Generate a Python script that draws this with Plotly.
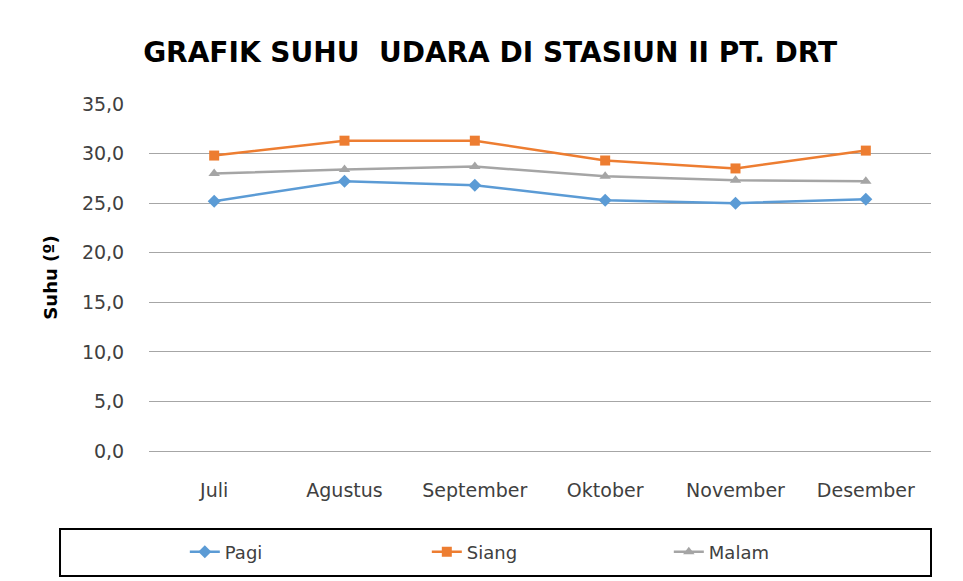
import plotly.graph_objects as go

bulan = ["Juli", "Agustus", "September", "Oktober", "November", "Desember"]
pagi = [25.2, 27.2, 26.8, 25.3, 25.0, 25.4]
siang = [29.8, 31.3, 31.3, 29.3, 28.5, 30.3]
malam = [28.0, 28.4, 28.7, 27.7, 27.3, 27.2]
y_ticks = [0, 5, 10, 15, 20, 25, 30, 35]

FONT = "DejaVu Sans"

fig = go.Figure()
fig.add_trace(go.Scatter(x=bulan, y=pagi, name="Pagi", mode="lines+markers",
                         line=dict(color="#5B9BD5", width=2.5),
                         marker=dict(symbol="diamond", size=10, color="#5B9BD5")))
fig.add_trace(go.Scatter(x=bulan, y=siang, name="Siang", mode="lines+markers",
                         line=dict(color="#ED7D31", width=2.5),
                         marker=dict(symbol="square", size=10, color="#ED7D31")))
fig.add_trace(go.Scatter(x=bulan, y=malam, name="Malam", mode="lines+markers",
                         line=dict(color="#A5A5A5", width=2.5),
                         marker=dict(symbol="triangle-up", size=10, color="#A5A5A5")))

fig.update_layout(
    width=963, height=581,
    paper_bgcolor="white", plot_bgcolor="white",
    separators=",.",
    margin=dict(l=149, r=32, t=104, b=130, autoexpand=False),
    font=dict(family=FONT, size=18, color="#404040"),
    title=dict(text="<b>GRAFIK SUHU  UDARA DI STASIUN II PT. DRT</b>",
               x=0.509, xanchor="center", y=0.91, yanchor="middle",
               xref="container", yref="container",
               font=dict(family=FONT, size=28, color="black")),
    showlegend=True,
    legend=dict(orientation="h", x=0.51, xanchor="center", y=-0.291, yanchor="middle",
                entrywidth=197, entrywidthmode="pixels",
                font=dict(family=FONT, size=18, color="#404040"),
                bgcolor="rgba(0,0,0,0)"),
    shapes=[dict(type="rect", xref="paper", yref="paper",
                 x0=-0.1138, x1=1.0, y0=-0.36, y1=-0.2248,
                 line=dict(color="black", width=2), fillcolor="rgba(0,0,0,0)")],
)

fig.update_xaxes(range=[-0.5, 5.5], showgrid=False, showline=False, zeroline=False,
                 ticks="outside", ticklen=22, tickcolor="rgba(0,0,0,0)",
                 tickfont=dict(family=FONT, size=19, color="#404040"))
fig.update_yaxes(range=[0, 35], tickvals=y_ticks, tickformat=".1f",
                 showgrid=True, gridcolor="#A6A6A6", gridwidth=1,
                 zeroline=True, zerolinecolor="#A6A6A6", zerolinewidth=1,
                 showline=False, ticks="outside", ticklen=20, tickcolor="rgba(0,0,0,0)",
                 tickfont=dict(family=FONT, size=19, color="#404040"),
                 title=dict(text="<b>Suhu (º)</b>", standoff=19,
                            font=dict(family=FONT, size=18, color="black")))

fig.write_html("out.html", config={"displayModeBar": False},
               post_script="document.body.style.margin='0';")
